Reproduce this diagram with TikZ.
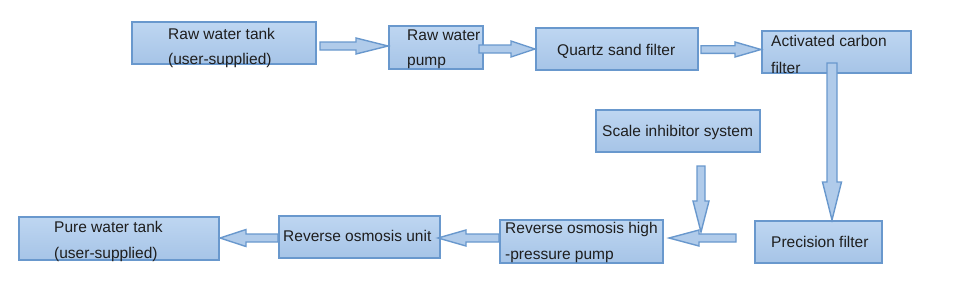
\documentclass[tikz,border=0pt]{standalone}
\usepackage{fontspec}
\setmainfont{Liberation Sans}
\usetikzlibrary{calc}
\definecolor{boxfill}{RGB}{176,203,234}
\definecolor{boxtop}{RGB}{190,214,241}
\definecolor{boxbot}{RGB}{166,196,231}
\definecolor{boxdraw}{RGB}{105,152,205}
\definecolor{txtc}{RGB}{30,30,30}
\tikzset{
  box/.style={draw=boxdraw, line width=2pt, top color=boxtop, bottom color=boxbot, inner sep=0pt, rectangle},
  lbl/.style={anchor=base west, inner sep=0pt, text=txtc, font=\fontsize{15.5}{18}\selectfont},
  barrow/.style={draw=boxdraw, line width=1.4pt, fill=boxfill, line join=miter},
}
% #1 start, #2 tip, #3 shaft half width, #4 head half width, #5 head length
\newcommand{\blockarrow}[5]{%
  \path ($(#2)!#5!(#1)$) coordinate (bh);
  \draw[barrow] ($(#1)!#3!90:(#2)$) -- ($(bh)!#3!-90:(#1)$) -- ($(bh)!#4!-90:(#1)$) -- (#2)
     -- ($(bh)!#4!90:(#1)$) -- ($(bh)!#3!90:(#1)$) -- ($(#1)!#3!-90:(#2)$) -- cycle;}
\begin{document}
\begin{tikzpicture}[x=1pt,y=-1pt]
\useasboundingbox (0,0) rectangle (960,301);
% boxes
\node[box, minimum width=184pt, minimum height=42pt] (rwt) at (224,43) {};
\node[box, minimum width=94pt, minimum height=43pt] (pump) at (436,47.5) {};
\node[box, minimum width=162pt, minimum height=42pt] (qsf) at (617,49) {};
\node[box, minimum width=149pt, minimum height=42pt] (acf) at (836.5,52) {};
\node[box, minimum width=164pt, minimum height=42pt] (sis) at (678,131) {};
\node[box, minimum width=127pt, minimum height=42pt] (pf) at (818.5,242) {};
\node[box, minimum width=163pt, minimum height=43pt] (hp) at (581.5,241.5) {};
\node[box, minimum width=161pt, minimum height=42pt] (rou) at (359.5,237) {};
\node[box, minimum width=200pt, minimum height=43pt] (pwt) at (119,238.5) {};
% labels
\node[lbl] (rwt-a) at (168,39) {Raw water tank};
\node[lbl] (rwt-b) at (168,64) {(user-supplied)};
\node[lbl] (pump-a) at (407,40) {Raw water};
\node[lbl] (pump-b) at (407,65) {pump};
\node[lbl] (qsf-a) at (557,55) {Quartz sand filter};
\node[lbl] (acf-a) at (771,46) {Activated carbon};
\node[lbl] (acf-b) at (771,73) {filter};
\node[lbl] (sis-a) at (602,136) {Scale inhibitor system};
\node[lbl] (pf-a) at (771,247) {Precision filter};
\node[lbl] (hp-a) at (505,233) {Reverse osmosis high};
\node[lbl] (hp-b) at (505,259) {-pressure pump};
\node[lbl] (rou-a) at (283,241) {Reverse osmosis unit};
\node[lbl] (pwt-a) at (54,232) {Pure water tank};
\node[lbl] (pwt-b) at (54,258) {(user-supplied)};
% connectors
\coordinate (a1s) at ($(rwt.east |- 0,46)+(3,0)$);
\coordinate (a1e) at (pump.west |- a1s);
\blockarrow{a1s}{a1e}{4pt}{8pt}{32pt}
\coordinate (a2s) at ($(pump.east |- 0,49)+(-5,0)$);
\coordinate (a2e) at (qsf.west |- a2s);
\blockarrow{a2s}{a2e}{4pt}{8pt}{24pt}
\coordinate (a3s) at ($(qsf.east |- 0,49.5)+(2,0)$);
\coordinate (a3e) at (acf.west |- a3s);
\blockarrow{a3s}{a3e}{3.8pt}{7.5pt}{26pt}
\coordinate (a4s) at ($(acf.south)+(-4.5,-11)$);
\coordinate (a4e) at (a4s |- pf.north);
\blockarrow{a4s}{a4e}{5pt}{9.5pt}{38pt}
\coordinate (a5s) at ($(sis.south)+(23,13)$);
\coordinate (a5e) at ($(a5s)+(0,66)$);
\blockarrow{a5s}{a5e}{4pt}{8pt}{31pt}
\coordinate (a6s) at ($(pf.west)+(-18,-4)$);
\coordinate (a6e) at ($(hp.east |- a6s)+(5,0)$);
\blockarrow{a6s}{a6e}{4pt}{8pt}{30pt}
\coordinate (a7s) at ($(hp.west)+(0,-3.5)$);
\coordinate (a7e) at ($(rou.east |- a7s)+(-3,0)$);
\blockarrow{a7s}{a7e}{4pt}{8pt}{28pt}
\coordinate (a8s) at ($(rou.west)+(0,1)$);
\coordinate (a8e) at (pwt.east |- a8s);
\blockarrow{a8s}{a8e}{4pt}{8.5pt}{26pt}
\end{tikzpicture}
\end{document}
